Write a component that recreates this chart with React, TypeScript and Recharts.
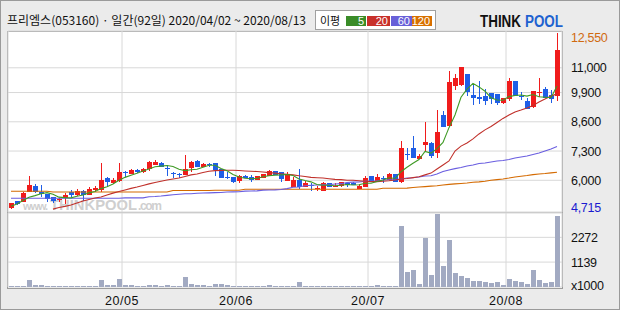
import React from 'react';
import { ComposedChart, Bar, Line, XAxis, YAxis, CartesianGrid } from 'recharts';

// ---- data ----
const opens = [4760, 5080, 5050, 5470, 5760, 5490, 5390, 5240, 5130, 5200, 5490, 5350, 5540, 5350, 5570, 5570, 6120, 5870, 5980, 6350, 6280, 6460, 6360, 6490, 6680, 6760, 6540, 6320, 6270, 6240, 6560, 6860, 6590, 6720, 6760, 6490, 6150, 6130, 5970, 6200, 6130, 6010, 6115, 6200, 6400, 6360, 5980, 5690, 6010, 5715, 5810, 5630, 5540, 5870, 5740, 5750, 5890, 5890, 5610, 5715, 6190, 5940, 6100, 6010, 6280, 5910, 7180, 7450, 6950, 7570, 7640, 7200, 8900, 8410, 10200, 10240, 10720, 9790, 9690, 9760, 9870, 9840, 9450, 9610, 10410, 9750, 9520, 9270, 9900, 10060, 9790, 9760];
const highs = [5000, 5100, 5490, 6190, 5820, 5790, 5400, 5250, 5230, 5420, 5570, 5610, 5560, 5690, 5760, 6780, 6130, 6090, 6780, 6410, 6500, 6480, 6560, 6870, 6900, 6830, 6680, 6380, 6340, 7120, 6860, 6900, 6760, 6760, 6770, 6500, 6380, 6140, 6240, 6220, 6240, 6200, 6280, 6450, 6430, 6370, 6360, 6130, 6490, 5980, 5870, 5750, 5940, 5880, 5870, 5940, 5900, 5910, 5840, 6190, 6200, 6280, 6190, 6340, 6300, 7750, 7420, 7970, 7150, 8580, 7700, 9120, 9080, 10860, 10720, 11040, 10740, 10240, 10410, 10040, 9880, 9850, 9660, 10560, 10420, 9940, 9640, 9990, 10530, 10160, 10010, 12550];
const lows = [4715, 4920, 5020, 5460, 5450, 5270, 5050, 4980, 5020, 4950, 5270, 5320, 5080, 5330, 5490, 5490, 5760, 5850, 5910, 6160, 6270, 6340, 6330, 6410, 6660, 6580, 6200, 6090, 6090, 6220, 6380, 6590, 6570, 6600, 6200, 6080, 6060, 5900, 5870, 6100, 5910, 6000, 6100, 6190, 6230, 5910, 5970, 5680, 5610, 5700, 5540, 5540, 5530, 5700, 5690, 5690, 5690, 5780, 5600, 5700, 5920, 5920, 5890, 6000, 5920, 5870, 6900, 6990, 6930, 7310, 7000, 7000, 8370, 8380, 10010, 10200, 9760, 9350, 9380, 9350, 9380, 9350, 9380, 9520, 9750, 9570, 9150, 9230, 9710, 9660, 9450, 9520];
const closes = [4980, 4930, 5420, 5790, 5470, 5380, 5170, 5080, 5155, 5350, 5350, 5525, 5350, 5600, 5670, 6010, 5910, 6010, 6380, 6320, 6460, 6360, 6520, 6830, 6830, 6600, 6510, 6290, 6240, 6500, 6830, 6600, 6740, 6700, 6460, 6090, 6120, 5910, 6190, 6115, 6010, 6190, 6270, 6430, 6250, 6060, 6280, 6010, 5690, 5890, 5790, 5645, 5870, 5715, 5760, 5910, 5790, 5790, 5760, 6090, 5940, 6160, 6080, 6280, 5940, 7420, 7160, 7000, 7090, 7720, 7090, 8130, 8380, 10380, 10530, 11020, 9940, 9670, 9610, 9540, 9610, 9420, 9640, 10410, 9760, 9730, 9170, 9970, 9910, 9670, 9610, 11790];
const ma5 = [4850, 4950, 5100, 5250, 5320, 5400, 5450, 5380, 5250, 5230, 5220, 5290, 5350, 5440, 5500, 5630, 5710, 5840, 6000, 6130, 6220, 6310, 6410, 6500, 6600, 6630, 6660, 6610, 6490, 6430, 6470, 6490, 6580, 6670, 6670, 6520, 6420, 6260, 6150, 6090, 6070, 6080, 6160, 6200, 6230, 6240, 6260, 6210, 6060, 5990, 5930, 5810, 5780, 5780, 5760, 5780, 5810, 5790, 5800, 5870, 5870, 5950, 6010, 6110, 6080, 6380, 6580, 6760, 6920, 7280, 7210, 7410, 7680, 8340, 8900, 9690, 10050, 10310, 10150, 9960, 9670, 9570, 9560, 9720, 9770, 9790, 9740, 9810, 9710, 9690, 9670, 10190];
const ma20 = [null, null, null, null, null, null, null, 4720, 4790, 4840, 4900, 4990, 5080, 5150, 5210, 5260, 5350, 5430, 5500, 5570, 5640, 5700, 5770, 5840, 5900, 5960, 6010, 6060, 6100, 6170, 6240, 6280, 6350, 6400, 6430, 6440, 6445, 6445, 6435, 6415, 6400, 6390, 6370, 6340, 6320, 6290, 6270, 6240, 6200, 6170, 6130, 6115, 6100, 6070, 6040, 6030, 6000, 6000, 5980, 5960, 5940, 5940, 5960, 5980, 6010, 6060, 6080, 6120, 6160, 6240, 6320, 6500, 6680, 6860, 7300, 7520, 7660, 7840, 8060, 8240, 8390, 8570, 8750, 8900, 9040, 9120, 9210, 9320, 9480, 9610, 9750, 9840];
const ma60 = [5200, 5200, 5200, 5200, 5200, 5200, 5200, 5200, 5200, 5200, 5200, 5200, 5200, 5200, 5200, 5200, 5200, 5200, 5200, 5220, 5220, 5220, 5220, 5270, 5280, 5300, 5330, 5360, 5380, 5400, 5405, 5425, 5435, 5440, 5450, 5455, 5480, 5485, 5490, 5520, 5525, 5530, 5565, 5570, 5575, 5590, 5630, 5690, 5700, 5760, 5780, 5790, 5795, 5800, 5835, 5850, 5900, 5920, 5925, 5955, 5965, 5970, 6010, 6025, 6030, 6060, 6100, 6115, 6145, 6190, 6205, 6280, 6390, 6460, 6520, 6570, 6635, 6680, 6745, 6770, 6810, 6855, 6880, 6925, 6990, 7035, 7080, 7145, 7210, 7300, 7390, 7500];
const ma120 = [5510, 5510, 5510, 5510, 5510, 5510, 5510, 5480, 5480, 5480, 5480, 5480, 5480, 5480, 5480, 5480, 5480, 5480, 5480, 5480, 5480, 5480, 5480, 5480, 5480, 5480, 5480, 5545, 5545, 5545, 5545, 5545, 5545, 5545, 5555, 5555, 5555, 5555, 5555, 5600, 5600, 5600, 5600, 5600, 5600, 5600, 5600, 5600, 5600, 5600, 5600, 5600, 5600, 5600, 5600, 5600, 5600, 5600, 5600, 5600, 5600, 5600, 5645, 5645, 5645, 5645, 5650, 5680, 5700, 5720, 5740, 5760, 5790, 5820, 5840, 5860, 5880, 5910, 5930, 5960, 6000, 6030, 6060, 6100, 6150, 6180, 6210, 6250, 6280, 6300, 6330, 6360];
const volumes = [45, 45, 45, 330, 100, 100, 45, 45, 45, 45, 45, 45, 45, 45, 45, 330, 100, 100, 375, 100, 100, 45, 45, 100, 100, 45, 100, 45, 45, 480, 146, 100, 100, 45, 115, 146, 100, 45, 45, 45, 45, 45, 45, 100, 45, 45, 45, 45, 206, 45, 45, 45, 45, 45, 45, 45, 45, 45, 45, 45, 45, 100, 45, 45, 45, 2813, 709, 787, 146, 2264, 558, 3348, 938, 2159, 663, 512, 407, 252, 252, 224, 178, 206, 100, 375, 252, 224, 160, 787, 343, 178, 206, 3225];

const priceTicks = [4715, 6000, 7300, 8600, 9900, 11000, 12550];
const priceGrid = [6000, 7300, 8600, 9900, 11000];
const volTicks = [0, 1139, 2272];
const monthStarts = [19, 38, 60, 83];
const monthLabels = ['20/05', '20/06', '20/07', '20/08'];

const title = '프리엠스(053160) · 일간(92일) 2020/04/02 ~ 2020/08/13';
const maNames = ['5', '20', '60', '120'];

// ---- styling ----
const RED = '#f01c1c';
const BLUE = '#1f5ee6';
const VOL = '#a2aac2';
const MA_COLORS = ['#3f9a25', '#c0302a', '#6a5ee0', '#d46a00'];
const LEGEND_COLORS = ['#3a8c28', '#c8302a', '#6860d8', '#d87000'];
const GRID = '#d8d8d8';
const NUM_FONT = "'Liberation Sans', Arial, sans-serif";
const KR_FONT = "'Noto Sans CJK KR', sans-serif";

const PRICE_DOMAIN: [number, number] = [4591, 12635];
const VOL_DOMAIN: [number, number] = [0, 3385];
const PAD = { left: 0, right: 2 };

const rows = closes.map((c, i) => ({
  i,
  o: opens[i],
  h: highs[i],
  l: lows[i],
  c,
  ma5: ma5[i],
  ma20: ma20[i],
  ma60: ma60[i],
  ma120: ma120[i],
  v: volumes[i],
}));

function Candle(props: any) {
  const { x, y, width, height, payload } = props;
  if (!payload || x == null || y == null) return null;
  const { o, h, l, c } = payload;
  const top = Math.min(y, y + height);
  const bot = Math.max(y, y + height);
  const k = h > l ? (bot - top) / (h - l) : 0;
  const py = (v: number) => top + (h - v) * k;
  const color = c >= o ? RED : BLUE;
  const left = Math.round(x);
  const w = Math.max(1, Math.round(width));
  const mid = left + Math.floor(w / 2) + 0.5;
  const bt = Math.round(py(Math.max(o, c)));
  const bb = Math.round(py(Math.min(o, c)));
  return (
    <g>
      <line x1={mid} x2={mid} y1={Math.round(top)} y2={Math.round(bot)} stroke={color} strokeWidth={1} />
      <rect x={left} y={bt} width={w} height={Math.max(1, bb - bt)} fill={color} />
    </g>
  );
}

function VolBar(props: any) {
  const { x, y, width, height } = props;
  if (x == null || y == null) return null;
  const left = Math.round(x);
  const bottom = Math.round(y + height);
  const h = Math.max(1, bottom - Math.round(y));
  return <rect x={left} y={bottom - h} width={Math.round(width)} height={h} fill={VOL} />;
}

function PriceTick(props: any) {
  const { y, payload } = props;
  const v = payload.value as number;
  const last = priceTicks[priceTicks.length - 1];
  const first = priceTicks[0];
  const color = v === last ? '#d06a10' : v === first ? '#1a1ad0' : '#111';
  const dy = v === last ? 5 : v === first ? -2 : 0;
  return (
    <text x={571} y={y + dy} dy="0.36em" fontFamily={NUM_FONT} fontSize={12.5} letterSpacing={-0.3} fill={color}>
      {v.toLocaleString('en-US')}
    </text>
  );
}

function VolTick(props: any) {
  const { y, payload } = props;
  const v = payload.value as number;
  return (
    <text x={571} y={y + (v === 0 ? -2 : 0)} dy="0.36em" fontFamily={NUM_FONT} fontSize={12.5} letterSpacing={-0.3} fill="#111">
      {v === 0 ? 'x1000' : String(v)}
    </text>
  );
}

function MonthTick(props: any) {
  const { x, payload } = props;
  const idx = monthStarts.indexOf(payload.value);
  return (
    <text x={x} y={88.5} dy="0.36em" textAnchor="middle" fontFamily={NUM_FONT} fontSize={12.5} letterSpacing={0.5} fill="#111">
      {monthLabels[idx]}
    </text>
  );
}

export default function App() {
  const boxes = [
    { x: 346, w: 20 },
    { x: 367, w: 23 },
    { x: 391, w: 21 },
    { x: 412, w: 20 },
  ];
  return (
    <div
      style={{
        position: 'absolute',
        left: 0,
        top: 0,
        width: 620,
        height: 310,
        background: '#ebebeb',
        border: '1px solid #9a9a9a',
        boxSizing: 'border-box',
        overflow: 'hidden',
      }}
    >
      {/* header */}
      <svg width={620} height={31} style={{ position: 'absolute', left: -1, top: -1 }}>
        <text x={7} y={25} fontFamily={KR_FONT} fontSize={12} fill="#111">
          {title}
        </text>
        <rect x={315.5} y={10.5} width={120} height={19} fill="#fff" stroke="#a0a0a0" />
        <text x={320} y={25} fontFamily={KR_FONT} fontSize={11} fill="#111">
          이평
        </text>
        {boxes.map((b, k) => (
          <g key={k}>
            <rect x={b.x} y={16} width={b.w} height={10} fill={LEGEND_COLORS[k]} />
            <text x={b.x + b.w - 2} y={25} textAnchor="end" fontFamily={NUM_FONT} fontSize={11} fill="#fff">
              {maNames[k]}
            </text>
          </g>
        ))}
        <text x={480} y={27} fontFamily={NUM_FONT} fontWeight={900} fontSize={16} fill="#111" textLength={41} lengthAdjust="spacingAndGlyphs">
          THINK
        </text>
        <text x={525} y={27} fontFamily={NUM_FONT} fontWeight={900} fontSize={16} fill="#1e62d0" textLength={38} lengthAdjust="spacingAndGlyphs">
          POOL
        </text>
      </svg>

      {/* plot frame */}
      <div
        style={{
          position: 'absolute',
          left: 6,
          top: 30,
          width: 556,
          height: 258,
          background: '#fff',
          border: '1px solid #9c9c9c',
          boxSizing: 'border-box',
        }}
      />
      <div style={{ position: 'absolute', left: 6, top: 211, width: 556, height: 1, background: '#a8a8a8' }} />

      {/* watermark */}
      <svg width={620} height={212} style={{ position: 'absolute', left: -1, top: -1 }}>
        <text x={23} y={210} fontFamily={NUM_FONT} fontWeight={700} fontSize={11} fill="#cfcfcf" textLength={25}>
          www.
        </text>
        <text x={50} y={210} fontFamily={NUM_FONT} fontWeight={900} fontSize={15} fill="#cfcfcf" textLength={87} lengthAdjust="spacingAndGlyphs">
          THINKPOOL
        </text>
        <text x={138} y={210} fontFamily={NUM_FONT} fontWeight={700} fontSize={12} fill="#cfcfcf" textLength={24}>
          .com
        </text>
      </svg>

      {/* price chart */}
      <div style={{ position: 'absolute', left: -1, top: -1 }}>
        <ComposedChart width={620} height={218} data={rows} margin={{ top: 31, right: 0, bottom: 6, left: 8 }}>
          <XAxis xAxisId={0} type="number" dataKey="i" domain={[0, 92]} ticks={monthStarts} padding={PAD} allowDataOverflow hide />
          <XAxis xAxisId="cat" type="category" dataKey="i" padding={PAD} hide />
          <YAxis yAxisId={0} type="number" domain={PRICE_DOMAIN} ticks={priceGrid} allowDataOverflow hide />
          <YAxis
            yAxisId="p"
            orientation="right"
            type="number"
            width={58}
            domain={PRICE_DOMAIN}
            ticks={priceTicks}
            interval={0}
            allowDataOverflow
            axisLine={false}
            tickLine={false}
            tick={(p: any) => <PriceTick {...p} />}
          />
          <CartesianGrid stroke={GRID} />
          <Line xAxisId="cat" yAxisId="p" dataKey="ma120" stroke={MA_COLORS[3]} strokeWidth={1.1} dot={false} isAnimationActive={false} />
          <Line xAxisId="cat" yAxisId="p" dataKey="ma60" stroke={MA_COLORS[2]} strokeWidth={1.1} dot={false} isAnimationActive={false} />
          <Line xAxisId="cat" yAxisId="p" dataKey="ma20" stroke={MA_COLORS[1]} strokeWidth={1.1} dot={false} isAnimationActive={false} />
          <Line xAxisId="cat" yAxisId="p" dataKey="ma5" stroke={MA_COLORS[0]} strokeWidth={1.1} dot={false} isAnimationActive={false} />
          <Bar
            xAxisId="cat"
            yAxisId="p"
            dataKey={(d: any) => [d.l, d.h]}
            barSize={5}
            isAnimationActive={false}
            shape={(p: any) => <Candle {...p} />}
          />
        </ComposedChart>
      </div>

      {/* volume chart */}
      <div style={{ position: 'absolute', left: -1, top: 211 }}>
        <ComposedChart width={620} height={98} data={rows} margin={{ top: 1, right: 0, bottom: 0, left: 8 }}>
          <XAxis
            xAxisId={0}
            type="number"
            dataKey="i"
            domain={[0, 92]}
            ticks={monthStarts}
            interval={0}
            padding={PAD}
            allowDataOverflow
            height={23}
            axisLine={false}
            tickLine={false}
            tick={(p: any) => <MonthTick {...p} />}
          />
          <XAxis xAxisId="cat" type="category" dataKey="i" padding={PAD} hide />
          <YAxis
            yAxisId={0}
            orientation="right"
            type="number"
            width={58}
            domain={VOL_DOMAIN}
            ticks={volTicks}
            interval={0}
            allowDataOverflow
            axisLine={false}
            tickLine={false}
            tick={(p: any) => <VolTick {...p} />}
          />
          <CartesianGrid stroke={GRID} />
          <Bar
            xAxisId="cat"
            yAxisId={0}
            dataKey="v"
            barSize={5}
            isAnimationActive={false}
            shape={(p: any) => <VolBar {...p} />}
          />
        </ComposedChart>
      </div>
    </div>
  );
}
